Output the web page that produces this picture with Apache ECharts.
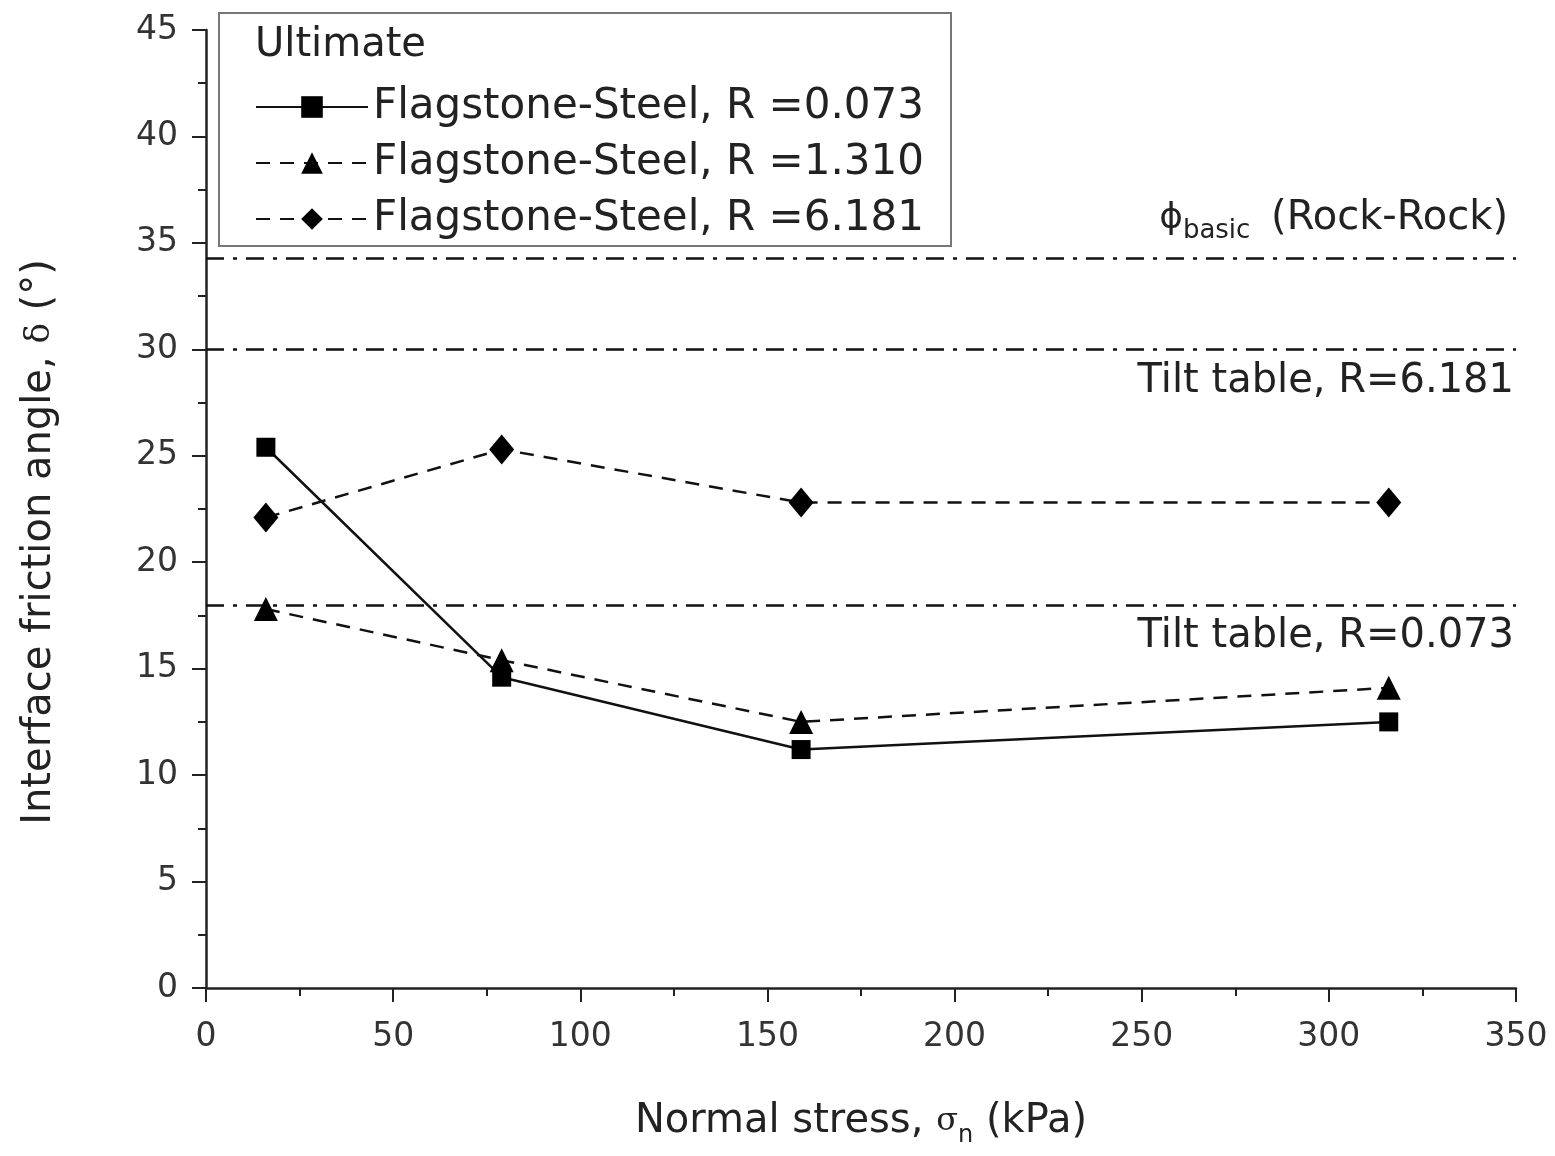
<!DOCTYPE html>
<html>
<head>
<meta charset="utf-8">
<script src="https://cdn.jsdelivr.net/npm/echarts@6/dist/echarts.min.js"></script>
<style>html,body{margin:0;padding:0;background:#fff}#c{width:1555px;height:1156px}</style>
</head>
<body>
<div id="c"></div>
<script>
const stress = [16, 79, 159, 316];
const r0073 = [25.4, 14.6, 11.2, 12.5];
const r1310 = [17.8, 15.4, 12.5, 14.1];
const r6181 = [22.1, 25.3, 22.8, 22.8];
const seriesNames = ['Flagstone-Steel, R =0.073', 'Flagstone-Steel, R =1.310', 'Flagstone-Steel, R =6.181'];
const refValues = [34.3, 30.0, 18.0];
const refLabels = ['{phi|ϕ}{sub|basic} (Rock-Rock)', 'Tilt table, R=6.181', 'Tilt table, R=0.073'];
const xTicks = [0, 350, 50];
const yTicks = [0, 45, 5];

const FONT = "'DejaVu Sans', 'Liberation Sans', Arial, sans-serif";
const pairs = (ys) => stress.map((x, i) => [x, ys[i]]);

const chart = echarts.init(document.getElementById('c'), null, {renderer: 'canvas'});
const dashDot = [18, 9, 4, 9];
const option = {
  animation: false,
  backgroundColor: '#fff',
  grid: {left: 206, right: 39, top: 30, bottom: 168, containLabel: false},
  xAxis: {
    type: 'value', min: xTicks[0], max: xTicks[1], interval: xTicks[2],
    axisLine: {show: true, lineStyle: {color: '#222', width: 2.5}},
    axisTick: {show: true, length: 14, lineStyle: {color: '#222', width: 2}},
    minorTick: {show: true, splitNumber: 2, length: 8, lineStyle: {color: '#222', width: 2}},
    splitLine: {show: false},
    axisLabel: {fontFamily: FONT, fontSize: 33, color: '#333', margin: 33},
    name: 'Normal stress, {s|σ}{sub|n} (kPa)',
    nameLocation: 'middle', nameGap: 108,
    nameTextStyle: {fontFamily: FONT, fontSize: 40, color: '#222',
      rich: {s: {fontFamily: "'DejaVu Serif', serif", fontSize: 32, color: '#222'},
             sub: {fontFamily: FONT, fontSize: 24, color: '#222', padding: [28, 0, 0, 0]}}}
  },
  yAxis: {
    type: 'value', min: yTicks[0], max: yTicks[1], interval: yTicks[2],
    axisLine: {show: true, lineStyle: {color: '#222', width: 2.5}},
    axisTick: {show: true, length: 14, lineStyle: {color: '#222', width: 2}},
    minorTick: {show: true, splitNumber: 2, length: 8, lineStyle: {color: '#222', width: 2}},
    splitLine: {show: false},
    axisLabel: {fontFamily: FONT, fontSize: 33, color: '#333', margin: 28},
    name: 'Interface friction angle, {d|δ} (°)',
    nameLocation: 'middle', nameGap: 146, nameRotate: 90,
    nameTextStyle: {fontFamily: FONT, fontSize: 40, color: '#222', padding: [0, 66, 0, 0],
      rich: {d: {fontFamily: "'DejaVu Serif', serif", fontSize: 34, color: '#222'}}}
  },
  legend: {
    orient: 'vertical', left: 250, top: 81, itemGap: 14,
    itemWidth: 112, itemHeight: 27,
    textStyle: {fontFamily: FONT, fontSize: 42, color: '#222'},
    data: seriesNames
  },
  graphic: [
    {type: 'rect', left: 218, top: 12, shape: {width: 732, height: 233},
     style: {fill: 'rgba(0,0,0,0)', stroke: '#777', lineWidth: 2}, z: 10},
    {type: 'text', left: 255, top: 26, style: {text: 'Ultimate', font: '40px ' + FONT, fill: '#222'}, z: 10}
  ],
  series: [
    {name: seriesNames[0], type: 'line', data: pairs(r0073), symbol: 'rect', symbolSize: 19,
     itemStyle: {color: '#000'}, lineStyle: {color: '#111', width: 2.5, type: 'solid'}, z: 5,
     markLine: {
       silent: true, symbol: ['none', 'none'],
       lineStyle: {color: '#111', width: 2.5, type: dashDot},
       data: refValues.map((v, i) => ({
         yAxis: v,
         label: {show: true, formatter: refLabels[i], position: i === 0 ? 'insideEndTop' : 'insideEndBottom',
           distance: i === 0 ? [8, 14] : [2, 12],
           fontFamily: FONT, fontSize: 40, color: '#222',
           rich: {phi: {fontFamily: "'DejaVu Sans', sans-serif", fontSize: 36, color: '#222'},
                  sub: {fontFamily: FONT, fontSize: 26, color: '#222', padding: [24, 8, 0, 0]}}}
       }))
     }},
    {name: seriesNames[1], type: 'line', data: pairs(r1310), symbol: 'triangle', symbolSize: 24,
     itemStyle: {color: '#000'}, lineStyle: {color: '#111', width: 2.5, type: [14, 10]}, z: 5},
    {name: seriesNames[2], type: 'line', data: pairs(r6181), symbol: 'diamond', symbolSize: [25, 30],
     itemStyle: {color: '#000'}, lineStyle: {color: '#111', width: 2.5, type: [14, 10]}, z: 5}
  ]
};
chart.setOption(option);
</script>
</body>
</html>
